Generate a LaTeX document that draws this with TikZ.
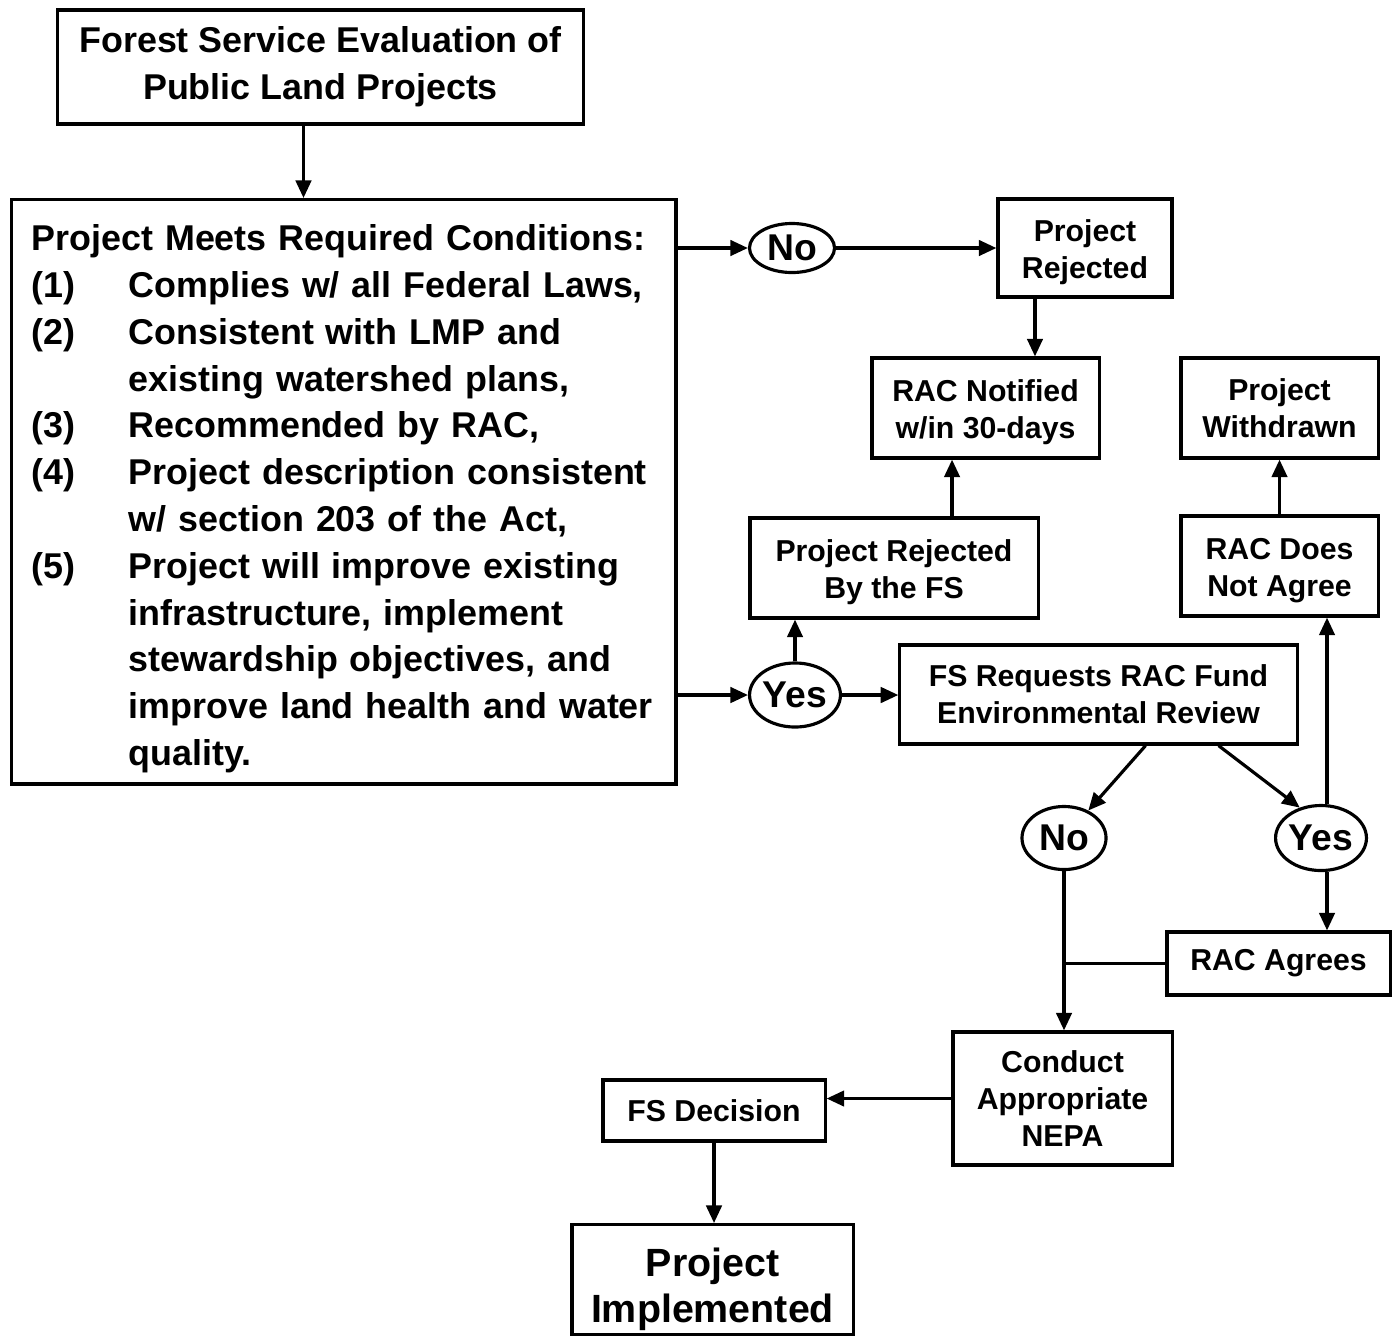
\documentclass[tikz,border=0pt]{standalone}
\usepackage{fontspec}
\setmainfont{Liberation Sans}
\usetikzlibrary{arrows.meta,shapes.geometric}

\begin{document}
\begin{tikzpicture}[x=0.01cm,y=-0.01cm,line width=0.9pt,
		boxed/.style={draw,rectangle,inner sep=1pt,align=center,font=\bfseries\fontsize{8.6}{10.6}\selectfont},
		answer/.style={draw,ellipse,inner sep=0pt,font=\bfseries\fontsize{10.6}{12}\selectfont},
		>={Triangle[length=5pt,width=4.4pt]}]
				\useasboundingbox (0,0) rectangle (1398,1336);
				\node[boxed,minimum width=5.25cm,minimum height=1.14cm,font=\bfseries\fontsize{10.2}{13.4}\selectfont] (evaluation) at (320.5,67) {Forest Service Evaluation of\\Public Land Projects};
				\node[draw,rectangle,anchor=north west,text width=6.24cm,align=left,minimum height=5.84cm,inner xsep=0.2cm,inner ysep=0pt,font=\bfseries\fontsize{10.2}{13.3}\selectfont] (conditions) at (10,198) {\begin{tabular}{@{}p{0.97cm}@{}l@{}}
					\multicolumn{2}{@{}l@{}}{\rule{0pt}{13.3pt}Project Meets Required Conditions:}\\
					(1) & Complies w/ all Federal Laws,\\
					(2) & Consistent with LMP and\\
					& existing watershed plans,\\
					(3) & Recommended by RAC,\\
					(4) & Project description consistent\\
					& w/ section 203 of the Act,\\
					(5) & Project will improve existing\\
					& infrastructure, implement\\
					& stewardship objectives, and\\
					& improve land health and water\\
					& quality.
				\end{tabular}};

				\node[answer,minimum width=0.85cm,minimum height=0.49cm] (no1) at (792,248) {No};
				\node[boxed,minimum width=1.74cm,minimum height=0.98cm] (rejected) at (1085,248) {\rule{0pt}{8.6pt}Project\\Rejected};
				\node[boxed,minimum width=2.27cm,minimum height=1.0cm] (notified) at (985.5,408) {\rule{0pt}{8.6pt}RAC Notified\\w/in 30-days};
				\node[boxed,minimum width=1.97cm,minimum height=1.0cm] (withdrawn) at (1279.5,408) {Project\\Withdrawn};
				\node[boxed,minimum width=2.88cm,minimum height=1.0cm] (rejectedfs) at (894,568) {\rule{0pt}{8.6pt}Project Rejected\\By the FS};
				\node[boxed,minimum width=1.97cm,minimum height=1.0cm] (notagree) at (1279.5,566) {\rule{0pt}{8.6pt}RAC Does\\Not Agree};
				\node[answer,minimum width=0.8cm,minimum height=0.64cm] (yes1) at (795,695) {Yes};
				\node[boxed,minimum width=3.97cm,minimum height=0.99cm] (fund) at (1098.5,694.5) {FS Requests RAC Fund\\Environmental Review};
				\node[answer,minimum width=0.84cm,minimum height=0.63cm] (no2) at (1064,838) {No};
				\node[answer,minimum width=0.83cm,minimum height=0.65cm] (yes2) at (1321,838) {Yes};
				\node[boxed,minimum width=2.23cm,minimum height=0.63cm] (agrees) at (1278.5,963.5) {RAC Agrees};
				\node[boxed,minimum width=2.19cm,minimum height=1.33cm] (nepa) at (1062.5,1098.5) {Conduct\\Appropriate\\NEPA};
				\node[boxed,minimum width=2.22cm,minimum height=0.61cm] (decision) at (714,1110.5) {FS Decision};
				\node[boxed,minimum width=2.81cm,minimum height=1.09cm,font=\bfseries\fontsize{11.2}{13.1}\selectfont] (implemented) at (712.5,1279.5) {\rule{0pt}{13.8pt}Project\\Implemented};

				\path[->]
				([xshift=-0.17cm]evaluation.south) edge ([xshift=-0.17cm]evaluation.south |- conditions.north)
				(no1.west -| conditions.east) edge (no1)
				(no1) edge (rejected)
				([xshift=-0.5cm]rejected.south) edge ([xshift=-0.5cm]rejected.south |- notified.north)
				(yes1.west -| conditions.east) edge (yes1)
				(yes1.north) edge (yes1.north |- rejectedfs.south)
				(yes1) edge (yes1 -| fund.west)
				([xshift=0.58cm]rejectedfs.north) edge ([xshift=0.58cm]rejectedfs.north |- notified.south)
				(notagree) edge (withdrawn)
				([xshift=0.47cm]fund.south) edge (no2)
				([xshift=1.2cm]fund.south) edge (yes2.125)
				([xshift=0.06cm]yes2.north) edge ([xshift=0.06cm]yes2.north |- notagree.south)
				([xshift=0.06cm]yes2.south) edge ([xshift=0.06cm]yes2.south |- agrees.north)
				(agrees.west) edge[-] (agrees.west -| no2.south)
				(no2.south) edge (no2.south |- nepa.north)
				(nepa.west) edge (nepa.west -| decision.east)
				(decision.south) edge (decision.south |- implemented.north);
			\end{tikzpicture}
\end{document}
